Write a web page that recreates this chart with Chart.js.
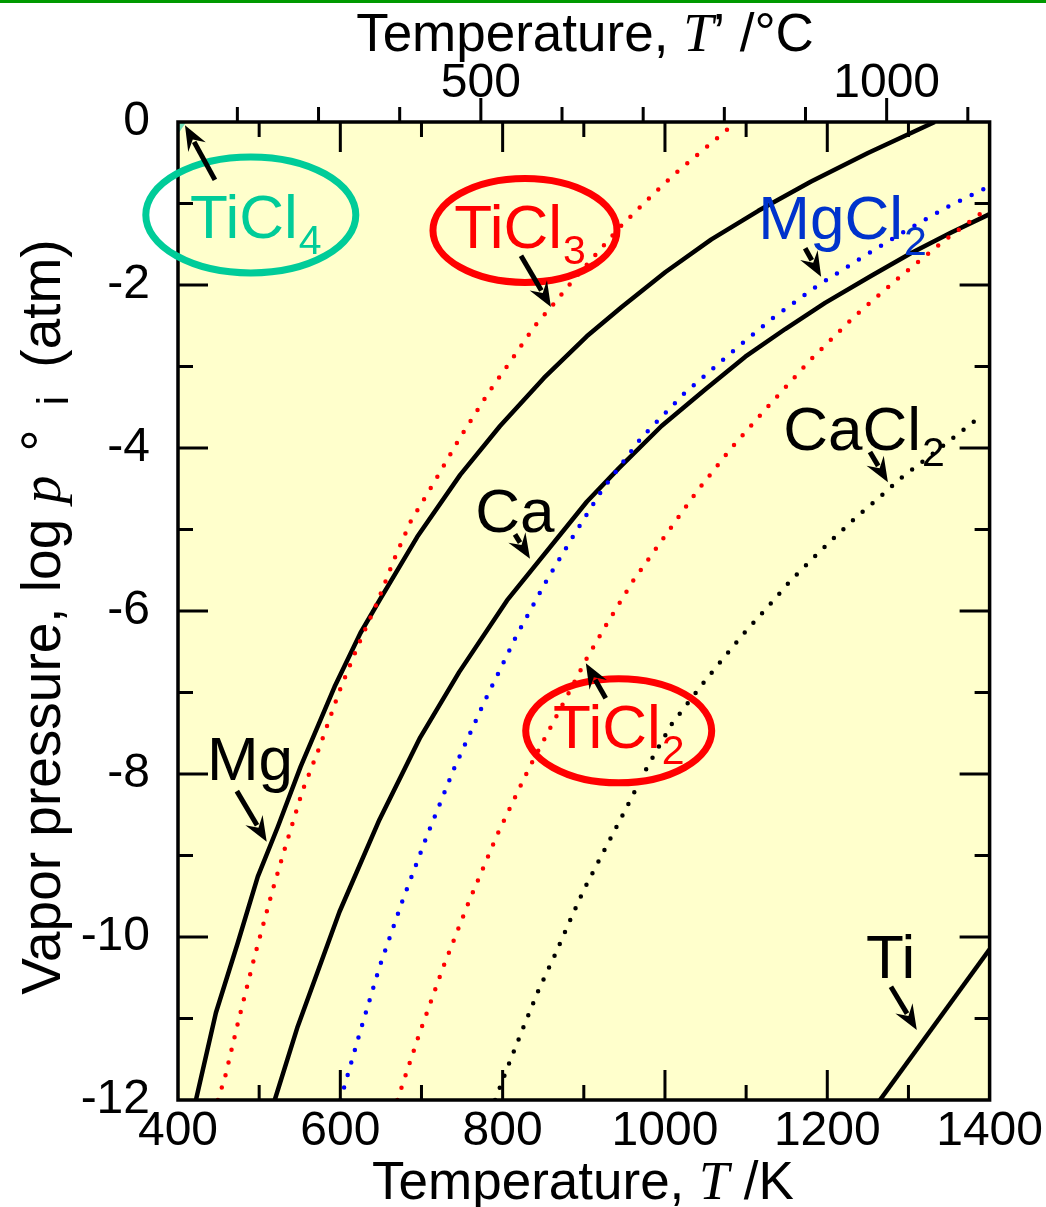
<!DOCTYPE html>
<html>
<head>
<meta charset="utf-8">
<script src="https://cdn.jsdelivr.net/npm/chart.js@4.4.1/dist/chart.umd.min.js"></script>
<style>
  html, body { margin: 0; padding: 0; background: #fff; }
  canvas { display: block; }
</style>
</head>
<body>
<canvas id="c" width="1046" height="1207"></canvas>
<script>
// Vapor pressure curves: T in K, log p in atm
const MG_T = [422.1, 446.7, 473.7, 498.3, 522.9, 551.1, 592.9, 624.8, 648.2, 694.8, 747.7, 796.8, 850.9, 903.7, 946.7, 1000.7, 1057.2, 1115.0, 1180.1, 1250.1, 1332.4];
const MG_LOGP = [-12.0, -10.93, -10.07, -9.26, -8.65, -7.91, -6.93, -6.27, -5.87, -5.09, -4.33, -3.73, -3.14, -2.63, -2.27, -1.84, -1.44, -1.09, -0.73, -0.38, 0];

const CA_T = [519.2, 547.4, 599.0, 648.2, 698.5, 746.4, 805.4, 903.7, 943.0, 995.8, 1049.9, 1099.0, 1148.2, 1197.3, 1253.8, 1302.9, 1352.1, 1400];
const CA_LOGP = [-12.0, -11.10, -9.69, -8.56, -7.55, -6.75, -5.87, -4.66, -4.25, -3.73, -3.28, -2.88, -2.54, -2.22, -1.89, -1.61, -1.36, -1.13];

const TI_T = [1264.9, 1400];
const TI_LOGP = [-12.0, -10.15];

const TICL4_T = [398.0, 407.4];
const TICL4_LOGP = [-0.13, 0.01];

const TICL3_T = [449.1, 457.7, 473.7, 494.6, 516.7, 532.7, 553.6, 574.4, 599.0, 621.1, 645.7, 666.6, 686.2, 715.7, 747.7, 783.3, 811.5, 839.8, 863.1, 885.2, 945.4, 986.0, 1013.0, 1041.3, 1081.8, 1085.5];
const TICL3_LOGP = [-12.0, -11.73, -11.06, -10.23, -9.42, -8.88, -8.20, -7.67, -6.98, -6.44, -5.89, -5.36, -4.91, -4.42, -3.87, -3.31, -2.91, -2.50, -2.23, -1.96, -1.28, -0.88, -0.63, -0.39, -0.05, 0];

const TICL2_T = [670.3, 697.3, 726.8, 758.7, 793.1, 832.4, 875.4, 903.7, 928.2, 961.4, 1000.7, 1038.8, 1081.8, 1129.7, 1180.1, 1234.1, 1289.4, 1344.7, 1400];
const TICL2_LOGP = [-12.0, -11.19, -10.37, -9.56, -8.75, -7.93, -7.12, -6.58, -6.16, -5.62, -5.07, -4.54, -4.00, -3.46, -2.91, -2.38, -1.90, -1.45, -1.04];

const MGCL2_T = [600.2, 623.6, 648.2, 676.4, 707.1, 740.3, 777.2, 817.7, 854.5, 887.7, 922.1, 971.3, 1022.9, 1078.1, 1130.9, 1186.2, 1241.5, 1295.6, 1348.4, 1395.1];
const MGCL2_LOGP = [-12.0, -11.19, -10.37, -9.56, -8.75, -7.93, -7.12, -6.29, -5.62, -5.07, -4.52, -3.87, -3.34, -2.86, -2.42, -2.02, -1.67, -1.34, -1.04, -0.81];

const CACL2_T = [790.7, 811.5, 827.5, 844.7, 863.1, 881.6, 900.0, 920.9, 949.1, 977.4, 1008.1, 1049.9, 1094.1, 1131.0, 1155.5, 1182.6, 1209.6, 1237.8, 1264.9, 1290.7, 1348.4, 1387.7];
const CACL2_LOGP = [-12.0, -11.46, -11.06, -10.64, -10.25, -9.83, -9.42, -9.02, -8.48, -7.93, -7.39, -6.85, -6.31, -5.90, -5.62, -5.35, -5.09, -4.83, -4.60, -4.37, -3.93, -3.62];

// axes
const K_MIN = 400, K_MAX = 1400;
const K_LABELS = [400, 600, 800, 1000, 1200, 1400];
const K_TICKS = [500, 600, 700, 800, 900, 1000, 1100, 1200, 1300];
const LOGP_MIN = -12, LOGP_MAX = 0;
const LOGP_TICKS = [-11, -10, -9, -8, -7, -6, -5, -4, -3, -2, -1];
const C_LABELS = [500, 1000];
const C_TICKS = [200, 300, 400, 500, 600, 700, 800, 900, 1000, 1100];

// labels on the plot (position in K / log p)
const LABELS = [
  { text: 'TiCl', sub: '4', color: '#00CC99', at: [414.7, -1.42], ring: [489.7, -1.14], rx: 105, ry: 58, arrow: [445.5, -0.71, 408.6, -0.04] },
  { text: 'TiCl', sub: '3', color: '#FF0000', at: [740.3, -1.55], ring: [827.5, -1.33], rx: 92, ry: 52, arrow: [822.6, -1.64, 859.5, -2.27] },
  { text: 'MgCl', sub: '2', color: '#0033CC', at: [1115.0, -1.44], arrow: [1172.7, -1.55, 1192.4, -1.90] },
  { text: 'Ca', color: '#000000', at: [766.1, -5.03], arrow: [815.2, -5.06, 833.7, -5.36] },
  { text: 'CaCl', sub: '2', color: '#000000', at: [1145.7, -4.02], arrow: [1252.6, -4.05, 1274.7, -4.42] },
  { text: 'TiCl', sub: '2', color: '#FF0000', at: [861.9, -7.68], ring: [943.0, -7.47], rx: 93, ry: 52, arrow: [927.0, -7.07, 902.5, -6.64] },
  { text: 'Mg', color: '#000000', at: [435.6, -8.07], arrow: [472.5, -8.21, 509.3, -8.83] },
  { text: 'Ti', color: '#000000', at: [1247.7, -10.50], arrow: [1278.4, -10.61, 1310.3, -11.14] },
];

const SANS = '"Liberation Sans", Arial, sans-serif';
const SERIF = '"Liberation Serif", "Times New Roman", serif';
Chart.defaults.font.family = SANS;

function pts(xs, ys) {
  return xs.map((x, i) => ({ x: x, y: ys[i] }));
}

function curve(label, xs, ys, color, dotted) {
  return {
    label: label,
    data: pts(xs, ys),
    borderColor: color,
    borderWidth: 4.5,
    borderDash: dotted ? [0, 13] : [],
    borderCapStyle: dotted ? 'round' : 'butt',
    borderJoinStyle: 'round',
    showLine: true,
    pointRadius: 0,
    tension: 0,
  };
}

function drawRich(ctx, parts, cx, baseY) {
  let total = 0;
  parts.forEach(p => { ctx.font = p.font; p.w = ctx.measureText(p.t).width; total += p.w + (p.gap || 0); });
  let x = cx - total / 2;
  ctx.textAlign = 'left';
  ctx.textBaseline = 'alphabetic';
  parts.forEach(p => {
    ctx.font = p.font;
    ctx.fillText(p.t, x, baseY + (p.dy || 0));
    x += p.w + (p.gap || 0);
  });
}

function arrow(ctx, x0, y0, x1, y1) {
  const a = Math.atan2(y1 - y0, x1 - x0);
  const c = Math.cos(a), s = Math.sin(a);
  const len = 25, half = 10;
  ctx.strokeStyle = '#000';
  ctx.fillStyle = '#000';
  ctx.lineWidth = 5;
  ctx.lineCap = 'butt';
  ctx.beginPath();
  ctx.moveTo(x0, y0);
  ctx.lineTo(x1 - c * (len - 6), y1 - s * (len - 6));
  ctx.stroke();
  ctx.beginPath();
  ctx.moveTo(x1, y1);
  ctx.lineTo(x1 - c * len - s * half, y1 - s * len + c * half);
  ctx.lineTo(x1 - c * len * 0.65, y1 - s * len * 0.65);
  ctx.lineTo(x1 - c * len + s * half, y1 - s * len - c * half);
  ctx.closePath();
  ctx.fill();
}

const framePlugin = {
  id: 'frame',
  beforeDraw(chart) {
    const ctx = chart.ctx, a = chart.chartArea;
    ctx.save();
    ctx.fillStyle = '#ffffff';
    ctx.fillRect(0, 0, chart.width, chart.height);
    ctx.fillStyle = '#009900';
    ctx.fillRect(0, 0, chart.width, 3);
    ctx.fillStyle = '#FFFFCC';
    ctx.fillRect(a.left, a.top, a.right - a.left, a.bottom - a.top);
    ctx.restore();
  },
  afterDatasetsDraw(chart) {
    const ctx = chart.ctx, a = chart.chartArea;
    const sx = chart.scales.x, sy = chart.scales.y, sc = chart.scales.xc;
    ctx.save();
    ctx.strokeStyle = '#000';
    ctx.lineWidth = 3;
    ctx.lineCap = 'butt';
    ctx.beginPath();
    // K ticks, inside on bottom and top
    K_TICKS.forEach(v => {
      const x = sx.getPixelForValue(v);
      const l = v % 200 === 0 ? 30 : 15;
      ctx.moveTo(x, a.bottom); ctx.lineTo(x, a.bottom - l);
      ctx.moveTo(x, a.top); ctx.lineTo(x, a.top + l);
    });
    // log p ticks, inside on left and right
    LOGP_TICKS.forEach(v => {
      const y = sy.getPixelForValue(v);
      const l = v % 2 === 0 ? 30 : 15;
      ctx.moveTo(a.left, y); ctx.lineTo(a.left + l, y);
      ctx.moveTo(a.right, y); ctx.lineTo(a.right - l, y);
    });
    // Celsius ticks, outside on top
    C_TICKS.forEach(v => {
      const x = sc.getPixelForValue(v);
      const l = C_LABELS.includes(v) ? 24 : 15;
      ctx.moveTo(x, a.top); ctx.lineTo(x, a.top - l);
    });
    ctx.stroke();
    ctx.lineWidth = 3.5;
    ctx.strokeRect(a.left, a.top, a.right - a.left, a.bottom - a.top);

    // labels, rings and arrows
    LABELS.forEach(L => {
      if (L.ring) {
        ctx.strokeStyle = L.color;
        ctx.lineWidth = 7;
        ctx.beginPath();
        ctx.ellipse(sx.getPixelForValue(L.ring[0]), sy.getPixelForValue(L.ring[1]), L.rx, L.ry, 0, 0, Math.PI * 2);
        ctx.stroke();
      }
      const x = sx.getPixelForValue(L.at[0]), y = sy.getPixelForValue(L.at[1]);
      ctx.fillStyle = L.color;
      ctx.textAlign = 'left';
      ctx.textBaseline = 'alphabetic';
      ctx.font = '62px ' + SANS;
      ctx.fillText(L.text, x, y);
      if (L.sub) {
        const w = ctx.measureText(L.text).width;
        ctx.font = '41px ' + SANS;
        ctx.fillText(L.sub, x + w + 1, y + 16);
      }
      arrow(ctx,
        sx.getPixelForValue(L.arrow[0]), sy.getPixelForValue(L.arrow[1]),
        sx.getPixelForValue(L.arrow[2]), sy.getPixelForValue(L.arrow[3]));
    });

    // axis titles
    ctx.fillStyle = '#000';
    const f = '53px ' + SANS, fi = 'italic 54px ' + SERIF;
    drawRich(ctx, [{ t: 'Temperature, ', font: f }, { t: 'T', font: fi }, { t: '\u2019 /\u00B0C', font: f }], 585, 51);
    drawRich(ctx, [{ t: 'Temperature, ', font: f }, { t: 'T', font: fi }, { t: ' /K', font: f }], 583, 1199);
    ctx.save();
    ctx.translate(60, 617);
    ctx.rotate(-Math.PI / 2);
    const fy = '55px ' + SANS, fyi = 'italic 56px ' + SERIF;
    drawRich(ctx, [
      { t: 'Vapor pressure, log ', font: fy },
      { t: 'p', font: fyi, gap: 24 },
      { t: '\u00B0', font: fy, gap: 24 },
      { t: 'i', font: '44px ' + SANS, dy: 8, gap: 28 },
      { t: '(atm)', font: fy },
    ], 0, 0);
    ctx.restore();
    ctx.restore();
  },
};

new Chart(document.getElementById('c'), {
  type: 'scatter',
  data: {
    datasets: [
      curve('TiCl4', TICL4_T, TICL4_LOGP, '#70E0B8', false),
      curve('TiCl3', TICL3_T, TICL3_LOGP, '#FF0000', true),
      curve('MgCl2', MGCL2_T, MGCL2_LOGP, '#0000FF', true),
      curve('TiCl2', TICL2_T, TICL2_LOGP, '#FF0000', true),
      curve('CaCl2', CACL2_T, CACL2_LOGP, '#000000', true),
      curve('Mg', MG_T, MG_LOGP, '#000000', false),
      curve('Ca', CA_T, CA_LOGP, '#000000', false),
      curve('Ti', TI_T, TI_LOGP, '#000000', false),
    ],
  },
  options: {
    responsive: false,
    animation: false,
    devicePixelRatio: 1,
    layout: { padding: { left: 0, right: 54, top: 0, bottom: 0 } },
    plugins: { legend: { display: false }, tooltip: { enabled: false } },
    scales: {
      x: {
        type: 'linear', position: 'bottom', min: K_MIN, max: K_MAX,
        afterBuildTicks: s => { s.ticks = K_LABELS.map(v => ({ value: v })); },
        ticks: { color: '#000', font: { size: 48 }, padding: 3, maxRotation: 0, autoSkip: false, callback: v => String(v) },
        grid: { display: false, drawTicks: false },
        border: { display: false },
        afterFit: s => { s.height = 107; },
      },
      xc: {
        type: 'linear', position: 'top', min: K_MIN - 273.15, max: K_MAX - 273.15,
        afterBuildTicks: s => { s.ticks = C_LABELS.map(v => ({ value: v })); },
        ticks: { color: '#000', font: { size: 48 }, padding: 9, maxRotation: 0, autoSkip: false, callback: v => String(v) },
        grid: { display: false, drawTicks: false },
        border: { display: false },
        afterFit: s => { s.height = 122; },
      },
      y: {
        type: 'linear', position: 'left', min: LOGP_MIN, max: LOGP_MAX,
        ticks: { color: '#000', font: { size: 48 }, stepSize: 2, padding: 28, callback: v => String(v) },
        grid: { display: false, drawTicks: false },
        border: { display: false },
        afterFit: s => { s.width = 178; },
      },
    },
  },
  plugins: [framePlugin],
});
</script>
</body>
</html>
